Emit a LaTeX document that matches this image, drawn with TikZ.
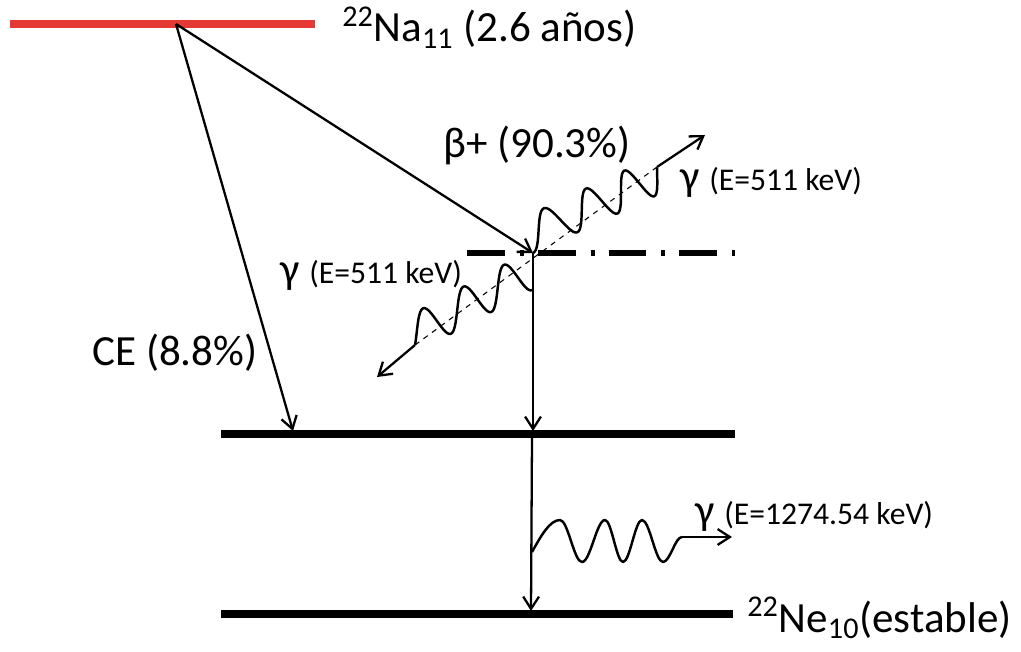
\documentclass[tikz,border=0pt]{standalone}
\usepackage{fontspec}
\setmainfont{Carlito}
\usetikzlibrary{arrows.meta}
\newcommand{\bigtxt}{\fontsize{24.5}{29}\selectfont}
\newcommand{\smalltxt}{\fontsize{18}{22}\selectfont}
\definecolor{nared}{RGB}{229,57,53}

\begin{document}
\begin{tikzpicture}[x=0.02cm, y=-0.02cm, >={Straight Barb[length=7pt,width=9pt]}]
	\tikzstyle{level} = [line width=4pt]
	\tikzstyle{trans} = [->, line width=1.3pt]
	\tikzstyle{photon} = [line width=1.4pt, line join=round]
	\tikzstyle{lbl} = [font=\bigtxt, anchor=base west, inner sep=0pt]
	\useasboundingbox (0,0) rectangle (1021,652);
	
	% Define level end points
	\coordinate (Na-l) at (10,24);
	\coordinate (Na-r) at (315,24);
	\coordinate (src) at (176,24);
	\coordinate (pos-l) at (467,253);
	\coordinate (pos-r) at (735,253);
	\coordinate (ann) at (533,253);
	\coordinate (L1-l) at (221,434);
	\coordinate (L1-r) at (735,434);
	\coordinate (L2-l) at (221,614);
	\coordinate (L2-r) at (733,614);
	
	% Draw energy levels
	\draw[level, nared, line width=5pt] (Na-l) -- (Na-r);
	\draw[level] (L1-l) -- (L1-r);
	\draw[level] (L2-l) -- (L2-r);
	\draw[line width=3pt, dash pattern=on 21.5pt off 8.5pt on 2.3pt off 8pt] (pos-l) -- (pos-r);
	
	% Define arrow end points
	\coordinate (ce-e) at (293,431);
	\coordinate (v1-e) at (533,431);
	\coordinate (v2-s) at (532,437);
	\coordinate (v2-e) at (531,611);
	\coordinate (ga-e) at (657,167);
	\coordinate (ga-tip) at (705,135);
	\coordinate (gb-s) at (532,290);
	\coordinate (gb-e) at (415,345);
	\coordinate (gb-tip) at (377,377);
	\coordinate (gc-s) at (532,552);
	\coordinate (gc-e) at (682,537);
	\coordinate (gc-tip) at (732,537);
	
	% Draw decay arrows
	\draw[trans] (src) -- (ce-e);
	\draw[trans] (src) -- (ann);
	\draw[trans] (ann) -- (v1-e);
	\draw[trans] (v2-s) -- (v2-e);
	
	% Annihilation line
	\draw[dashed, line width=0.6pt] (gb-e) -- (ga-e);
	
	% Draw photons
	\draw[photon] plot[domain=0:1, samples=200, smooth]
		({527+132.5*\x-6*sin(-90+1014.9*\x+179.1*\x*\x)}, {236-62*\x-17*sin(-90+1014.9*\x+179.1*\x*\x)});
	\draw[photon] plot[domain=0:1, samples=200, smooth]
		({528-115.4*\x-4*sin(-90+1027*\x)}, {272+62.2*\x-18*sin(-90+1027*\x)});
	\draw[photon] (gc-s) sin (560,520) cos (571,541) sin (582,562) cos (593.5,541) sin (605,520)
		cos (614,541) sin (623,562) cos (632.5,541) sin (642,520) cos (652.5,541) sin (663,562)
		cos (672.5,549.5) sin (gc-e);
	\draw[trans] (ga-e) -- (ga-tip);
	\draw[trans] (gb-e) -- (gb-tip);
	\draw[trans] (gc-e) -- (gc-tip);
	
	% Labels
	\node[lbl] (na-lbl) at (342,42) {\textsuperscript{22}Na\textsubscript{11} (2.6 años)};
	\node[lbl] (ne-lbl) at (747,632) {\textsuperscript{22}Ne\textsubscript{10}(estable)};
	\node[lbl] (beta-lbl) at (443,157) {β+ (90.3\%)};
	\node[lbl] (ce-lbl) at (92,365) {CE (8.8\%)};
	\node[lbl] (ga-lbl) at (680,191) {γ {\smalltxt (E=511 keV)}};
	\node[lbl] (gb-lbl) at (280,283) {γ {\smalltxt (E=511 keV)}};
	\node[lbl] (gc-lbl) at (695,524) {γ {\smalltxt (E=1274.54 keV)}};
	
\end{tikzpicture}
\end{document}
